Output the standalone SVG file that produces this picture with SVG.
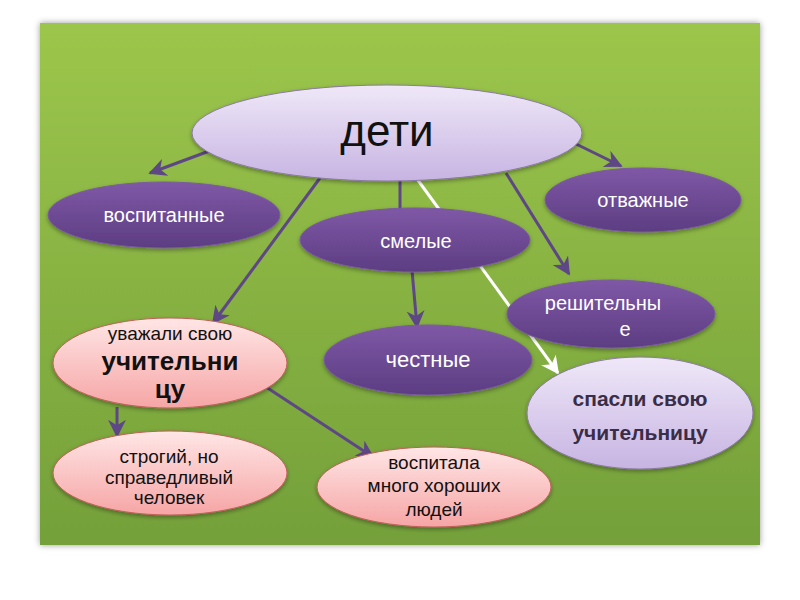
<svg xmlns="http://www.w3.org/2000/svg" width="800" height="600" viewBox="0 0 800 600">
<defs>
<linearGradient id="bg" x1="0" y1="0" x2="0" y2="1">
<stop offset="0" stop-color="#9cc64b"/>
<stop offset="1" stop-color="#74a03a"/>
</linearGradient>
<linearGradient id="lav" x1="0" y1="0" x2="0" y2="1">
<stop offset="0" stop-color="#efe8f8"/>
<stop offset="1" stop-color="#c7b4e2"/>
</linearGradient>
<linearGradient id="pur" x1="0" y1="0" x2="0" y2="1">
<stop offset="0" stop-color="#7f58a6"/>
<stop offset="1" stop-color="#5c3d82"/>
</linearGradient>
<linearGradient id="pink" x1="0" y1="0" x2="0" y2="1">
<stop offset="0" stop-color="#ffe6e6"/>
<stop offset="1" stop-color="#f6a5a5"/>
</linearGradient>
<filter id="sh" x="-10%" y="-10%" width="120%" height="130%">
<feDropShadow dx="0" dy="2" stdDeviation="2" flood-color="#000" flood-opacity="0.35"/>
</filter>
<filter id="bsh" x="-5%" y="-5%" width="110%" height="110%">
<feDropShadow dx="0" dy="0" stdDeviation="3" flood-color="#000" flood-opacity="0.4"/>
</filter>
<marker id="ah" viewBox="0 0 10 10" refX="9" refY="5" markerWidth="6" markerHeight="6" orient="auto" markerUnits="strokeWidth">
<path d="M0,0 L10,5 L0,10 L3,5 z" fill="#5e4785"/>
</marker>
<marker id="ahw" viewBox="0 0 10 10" refX="9" refY="5" markerWidth="6" markerHeight="6" orient="auto" markerUnits="strokeWidth">
<path d="M0,0 L10,5 L0,10 L3,5 z" fill="#ffffff"/>
</marker>
<style>
.c{stroke:#5e4785;stroke-width:3;fill:none;marker-end:url(#ah)}
.cn{stroke:#5e4785;stroke-width:3;fill:none}
.w{stroke:#ffffff;stroke-width:3;fill:none;marker-end:url(#ahw)}
.lav{fill:url(#lav);stroke:#8c7aa3;stroke-width:1;filter:url(#sh)}
.pur{fill:url(#pur);stroke:#7a5aa0;stroke-width:1;filter:url(#sh)}
.pink{fill:url(#pink);stroke:#c0605a;stroke-width:1;filter:url(#sh)}
text{font-family:"Liberation Sans",Arial,sans-serif;text-anchor:middle}
.wt{fill:#ffffff;font-size:20px}
.bt{fill:#111111;font-size:19px}
.bb{fill:#111111;font-size:26px;font-weight:bold}
.sp{fill:#3a2d48;font-size:21px;font-weight:bold}
</style>
</defs>
<rect x="40" y="23" width="720" height="522" fill="url(#bg)" filter="url(#bsh)"/>
<g id="connectors">
<line class="w" x1="412" y1="172" x2="558" y2="373"/>
<line class="c" x1="212" y1="150" x2="150" y2="173"/>
<line class="c" x1="572" y1="142" x2="621" y2="166"/>
<line class="c" x1="320" y1="178" x2="213" y2="323"/>
<line class="cn" x1="400" y1="180" x2="400" y2="212"/>
<line class="c" x1="506" y1="173" x2="569" y2="274"/>
<line class="c" x1="412" y1="270" x2="417" y2="327"/>
<line class="c" x1="117" y1="407" x2="117" y2="436"/>
<line class="c" x1="266" y1="387" x2="373" y2="457"/>
</g>
<g id="deti">
<ellipse class="lav" cx="387" cy="133" rx="195" ry="48"/>
<text x="387" y="146" style="fill:#111;font-size:44px">дети</text>
</g>
<g id="vospitannye">
<ellipse class="pur" cx="164" cy="215" rx="116" ry="33"/>
<text class="wt" x="164" y="222">воспитанные</text>
</g>
<g id="smelye">
<ellipse class="pur" cx="415" cy="240" rx="115" ry="32"/>
<text class="wt" x="416" y="248">смелые</text>
</g>
<g id="otvazhnye">
<ellipse class="pur" cx="643" cy="200" rx="98" ry="32"/>
<text class="wt" x="643" y="207">отважные</text>
</g>
<g id="reshitelnye">
<ellipse class="pur" cx="611" cy="314" rx="104" ry="34"/>
<text class="wt" x="603" y="310">решительны</text>
<text class="wt" x="625" y="336">е</text>
</g>
<g id="chestnye">
<ellipse class="pur" cx="428" cy="360" rx="104" ry="35"/>
<text class="wt" x="428" y="367" style="font-size:22px">честные</text>
</g>
<g id="uvazhali">
<ellipse class="pink" cx="170" cy="363" rx="117" ry="45"/>
<text class="bt" x="170" y="340">уважали свою</text>
<text class="bb" x="170" y="370">учительни</text>
<text class="bb" x="170" y="398">цу</text>
</g>
<g id="spasli">
<ellipse class="lav" cx="640" cy="413" rx="113" ry="56"/>
<text class="sp" x="640" y="406">спасли свою</text>
<text class="sp" x="640" y="440">учительницу</text>
</g>
<g id="strogiy">
<ellipse class="pink" cx="170" cy="473" rx="117" ry="42"/>
<text class="bt" x="169" y="463">строгий, но</text>
<text class="bt" x="169" y="484">справедливый</text>
<text class="bt" x="169" y="504">человек</text>
</g>
<g id="vospitala">
<ellipse class="pink" cx="434" cy="487" rx="117" ry="40"/>
<text class="bt" x="434" y="469">воспитала</text>
<text class="bt" x="434" y="492">много хороших</text>
<text class="bt" x="434" y="516">людей</text>
</g>
</svg>
